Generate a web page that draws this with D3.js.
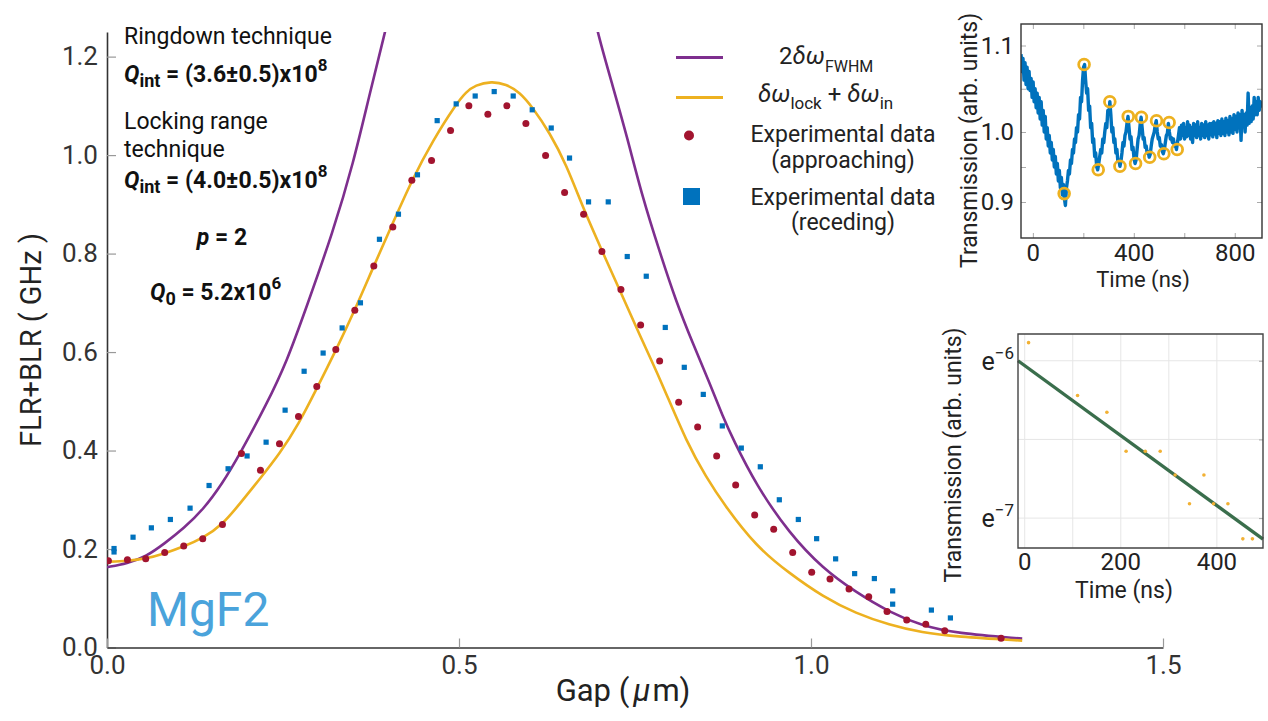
<!DOCTYPE html>
<html>
<head>
<meta charset="utf-8">
<script src="https://cdn.jsdelivr.net/npm/d3@7"></script>
<style>
  body { margin: 0; background: #fff; }
  svg { font-family: Roboto, "Noto Sans", sans-serif; }
</style>
</head>
<body>
<svg id="chart" width="1268" height="721"></svg>
<script>
// ---- main panel data (gap in um, FLR+BLR in GHz) ----
var gapApproach = [0.002, 0.029, 0.055, 0.082, 0.109, 0.136, 0.164, 0.191, 0.218, 0.245, 0.272, 0.298, 0.325, 0.352, 0.379, 0.406, 0.433, 0.461, 0.488, 0.514, 0.541, 0.568, 0.595, 0.623, 0.650, 0.677, 0.703, 0.730, 0.758, 0.785, 0.812, 0.839, 0.866, 0.893, 0.920, 0.947, 0.974, 1.001, 1.027, 1.054, 1.082, 1.108, 1.136, 1.163, 1.190, 1.270];
var flrApproach = [0.176, 0.178, 0.180, 0.193, 0.206, 0.221, 0.250, 0.394, 0.360, 0.414, 0.469, 0.530, 0.605, 0.685, 0.775, 0.854, 0.949, 0.989, 1.050, 1.100, 1.083, 1.100, 1.064, 0.999, 0.924, 0.880, 0.804, 0.727, 0.655, 0.582, 0.498, 0.448, 0.389, 0.330, 0.269, 0.240, 0.193, 0.153, 0.139, 0.119, 0.103, 0.073, 0.056, 0.047, 0.034, 0.019];

var gapRecede = [0.010, 0.010, 0.037, 0.063, 0.090, 0.118, 0.145, 0.172, 0.199, 0.226, 0.253, 0.280, 0.307, 0.334, 0.360, 0.387, 0.414, 0.441, 0.469, 0.496, 0.523, 0.550, 0.577, 0.604, 0.631, 0.657, 0.684, 0.712, 0.739, 0.766, 0.793, 0.820, 0.847, 0.874, 0.901, 0.928, 0.955, 0.982, 1.008, 1.035, 1.062, 1.090, 1.116, 1.116, 1.171, 1.198];
var flrRecede = [0.201, 0.194, 0.224, 0.243, 0.260, 0.283, 0.329, 0.363, 0.389, 0.417, 0.482, 0.561, 0.598, 0.649, 0.700, 0.829, 0.880, 0.960, 1.070, 1.104, 1.120, 1.129, 1.120, 1.092, 1.055, 0.994, 0.905, 0.905, 0.794, 0.754, 0.650, 0.569, 0.514, 0.450, 0.405, 0.367, 0.300, 0.260, 0.221, 0.180, 0.150, 0.140, 0.115, 0.088, 0.076, 0.060];

// 2 dw_FWHM curve, null marks where it leaves the top of the frame
var fwhmGap = [0.000, 0.029, 0.055, 0.082, 0.109, 0.136, 0.164, 0.189, 0.227, 0.255, 0.283, 0.321, 0.350, 0.373, 0.395, 0.405, 0.55, 0.688, 0.697, 0.718, 0.738, 0.761, 0.785, 0.808, 0.832, 0.856, 0.875, 0.889, 0.922, 0.969, 1.017, 1.064, 1.111, 1.158, 1.206, 1.300];
var fwhmVal = [0.163, 0.171, 0.184, 0.2115, 0.242, 0.279, 0.333, 0.3935, 0.495, 0.579, 0.690, 0.844, 0.984, 1.124, 1.250, 1.310, null, 1.310, 1.247, 1.142, 1.041, 0.912, 0.804, 0.704, 0.618, 0.537, 0.468, 0.424, 0.330, 0.232, 0.160, 0.112, 0.072, 0.044, 0.029, 0.018];

// dw_lock + dw_in curve
var lockGap = [0.000, 0.029, 0.055, 0.082, 0.109, 0.136, 0.164, 0.191, 0.218, 0.245, 0.272, 0.298, 0.325, 0.352, 0.379, 0.406, 0.433, 0.463, 0.496, 0.510, 0.523, 0.546, 0.567, 0.586, 0.604, 0.629, 0.652, 0.677, 0.703, 0.729, 0.756, 0.785, 0.825, 0.851, 0.875, 0.922, 0.969, 1.017, 1.064, 1.111, 1.158, 1.206, 1.300];
var lockVal = [0.174, 0.176, 0.180, 0.191, 0.205, 0.222, 0.249, 0.296, 0.344, 0.393, 0.453, 0.526, 0.603, 0.685, 0.775, 0.862, 0.949, 1.030, 1.104, 1.128, 1.142, 1.150, 1.144, 1.128, 1.098, 1.045, 0.982, 0.890, 0.806, 0.724, 0.636, 0.548, 0.411, 0.347, 0.293, 0.205, 0.151, 0.103, 0.069, 0.046, 0.030, 0.022, 0.014];

var gapTicks = [0, 0.5, 1.0, 1.5];
var flrTicks = [0, 0.2, 0.4, 0.6, 0.8, 1.0, 1.2];

// ---- top inset: ringdown trace (time ns, transmission) ----
var ringTrace = [[-47,1.090],[-43,1.070],[-39,1.085],[-35,1.060],[-31,1.080],[-27,1.055],[-23,1.075],[-19,1.050],[-15,1.070],[-11,1.048],[-7,1.062],[-3,1.040],[1,1.058],[5,1.035],[9,1.050],[13,1.028],[17,1.045],[21,1.022],[25,1.040],[29,1.015],[33,1.035],[37,1.008],[41,1.025],[45,1.000],[49,1.018],[53,0.990],[57,1.005],[61,0.980],[65,0.995],[69,0.970],[73,0.985],[77,0.960],[81,0.975],[85,0.950],[89,0.965],[93,0.940],[97,0.955],[101,0.930],[105,0.945],[109,0.920],[113,0.935],[117,0.910],[121,0.925],[125,0.905],[129,0.895],[133,0.920],[137,0.930],[141,0.945],[145,0.940],[149,0.960],[153,0.955],[157,0.975],[161,0.970],[165,0.990],[169,0.985],[173,1.005],[177,1.000],[181,1.020],[185,1.015],[189,1.040],[193,1.035],[197,1.060],[201,1.075],[205,1.078],[209,1.060],[213,1.045],[217,1.050],[221,1.025],[225,1.030],[229,1.005],[233,1.010],[237,0.985],[241,0.990],[245,0.965],[249,0.970],[253,0.950],[257,0.946],[261,0.955],[265,0.965],[269,0.975],[273,0.970],[277,0.990],[281,0.985],[285,1.000],[289,1.010],[293,1.005],[297,1.025],[301,1.020],[305,1.035],[309,1.020],[313,1.000],[317,1.005],[321,0.985],[325,0.990],[329,0.970],[333,0.975],[337,0.958],[341,0.960],[345,0.951],[349,0.958],[353,0.970],[357,0.985],[361,0.980],[365,0.995],[369,1.000],[373,1.010],[377,1.018],[381,1.005],[385,0.990],[389,0.993],[393,0.975],[397,0.978],[401,0.962],[405,0.955],[409,0.960],[413,0.975],[417,0.990],[421,0.995],[425,1.008],[429,1.017],[433,1.005],[437,0.990],[441,0.992],[445,0.978],[449,0.980],[453,0.970],[457,0.972],[461,0.964],[465,0.968],[469,0.980],[473,0.990],[477,0.995],[481,1.000],[485,1.008],[489,1.013],[493,1.000],[497,0.990],[501,0.992],[505,0.980],[509,0.982],[513,0.972],[517,0.969],[521,0.975],[525,0.985],[529,0.995],[533,0.998],[537,1.010],[541,1.000],[545,0.990],[549,0.992],[553,0.985],[557,0.990],[561,0.980],[565,0.982],[569,0.975],[573,0.985],[577,0.995],[581,1.005],[585,0.990],[589,1.008],[593,0.995],[597,1.010],[601,0.990],[605,1.005],[609,0.993],[613,1.012],[617,0.995],[621,1.008],[625,0.990],[629,1.005],[633,0.985],[637,1.010],[641,0.995],[645,1.008],[649,0.992],[653,1.012],[657,0.995],[661,1.005],[665,0.990],[669,1.010],[673,0.995],[677,1.008],[681,0.992],[685,1.012],[689,0.995],[693,1.008],[697,0.990],[701,1.010],[705,0.996],[709,1.010],[713,0.993],[717,1.012],[721,0.997],[725,1.010],[729,0.992],[733,1.013],[737,0.998],[741,1.012],[745,0.995],[749,1.015],[753,0.998],[757,1.012],[761,0.995],[765,1.016],[769,1.000],[773,1.013],[777,0.996],[781,1.018],[785,1.000],[789,1.015],[793,0.998],[797,1.020],[801,1.003],[805,1.018],[809,1.000],[813,1.022],[817,1.005],[821,1.020],[825,0.988],[829,1.025],[833,1.008],[837,1.020],[841,1.000],[845,1.022],[849,1.008],[853,1.045],[857,1.010],[861,1.028],[865,1.012],[869,1.030],[873,1.015],[877,1.040],[881,1.020],[885,1.035],[889,1.020],[893,1.040],[897,1.025],[901,1.035],[905,1.030],[908,1.032]];
var peakTime = [124, 203, 259, 305, 345, 378, 407, 430, 463, 490, 519, 540, 572];
var peakTrans = [0.912, 1.078, 0.946, 1.035, 0.951, 1.018, 0.955, 1.017, 0.964, 1.013, 0.969, 1.011, 0.975];
var ringTimeTicks = [0, 200, 400, 600, 800];
var ringTimeLabels = [0, 400, 800];
var ringTransTicks = [0.9, 0.95, 1.0, 1.05, 1.1];
var ringTransLabels = [0.9, 1.0, 1.1];

// ---- bottom inset: peak amplitudes on a log scale (ln of transmission) ----
var decayTime = [8, 110, 171, 211, 251, 282, 313, 343, 373, 393, 423, 454, 474];
var decayLn = [-5.885, -6.221, -6.327, -6.575, -6.575, -6.575, -6.726, -6.909, -6.726, -6.909, -6.909, -7.132, -7.132];
var fitTime = [-14, 496];
var fitLn = [-6.0, -7.134];
var decayTimeGrid = [0, 100, 200, 300, 400];
var decayTimeLabels = [0, 200, 400];
var decayLnGrid = [-7, -6.5, -6];
var decayLnLabels = [-7, -6];

var colors = {
  fwhm: "#7e2f8e",
  lock: "#edb120",
  approach: "#a2142f",
  recede: "#0072bd",
  fit: "#3a6e4c",
  text: "#222"
};

var svg = d3.select("#chart");

// ================= main panel =================
var x = d3.scaleLinear().domain([0, 1.5]).range([107, 1163]);
var y = d3.scaleLinear().domain([0, 1.25]).range([647.5, 32]);

svg.append("defs").append("clipPath").attr("id", "mainClip")
  .append("rect").attr("x", 107).attr("y", 32).attr("width", 1056).attr("height", 616);

var styleAxis = function (g) {
  g.select(".domain").attr("stroke", "#333").attr("stroke-width", 1.6);
  g.selectAll(".tick line").attr("stroke", "#999").attr("stroke-width", 1.2);
  g.selectAll(".tick text").attr("fill", "#333").attr("font-size", 26).attr("font-family", "Roboto, sans-serif");
};

svg.append("g").attr("transform", "translate(107,0)")
  .call(d3.axisLeft(y).tickValues(flrTicks).tickFormat(d3.format(".1f")).tickSize(-9).tickSizeOuter(0).tickPadding(9))
  .call(styleAxis);

svg.append("g").attr("transform", "translate(0,647.5)")
  .call(d3.axisBottom(x).tickValues(gapTicks).tickFormat(d3.format(".1f")).tickSize(-9).tickSizeOuter(0).tickPadding(8))
  .call(styleAxis);

svg.append("text").attr("transform", "translate(41,340) rotate(-90)")
  .attr("text-anchor", "middle").attr("font-size", 29).attr("fill", colors.text)
  .text("FLR+BLR ( GHz )");

var xt = svg.append("text").attr("x", 623).attr("y", 701).attr("text-anchor", "middle")
  .attr("font-size", 31).attr("fill", colors.text);
xt.append("tspan").text("Gap (");
xt.append("tspan").attr("dx", 4).attr("font-style", "italic").text("\u03bc");
xt.append("tspan").attr("dx", 2).text("m)");

var plot = svg.append("g").attr("clip-path", "url(#mainClip)");

// smooth the read-off points a little
var curveLine = d3.line()
  .defined(function (d) { return d[1] !== null; })
  .x(function (d) { return x(d[0]); })
  .y(function (d) { return y(d[1]); })
  .curve(d3.curveBasis);

var fwhmData = fwhmGap.map(function (g, i) { return [g, fwhmVal[i]]; });
var lockData = lockGap.map(function (g, i) { return [g, lockVal[i]]; });

plot.append("path").attr("d", curveLine(fwhmData))
  .attr("fill", "none").attr("stroke", colors.fwhm).attr("stroke-width", 2.6);
plot.append("path").attr("d", curveLine(lockData))
  .attr("fill", "none").attr("stroke", colors.lock).attr("stroke-width", 2.6);

plot.selectAll("rect.recede").data(gapRecede).enter().append("rect")
  .attr("class", "recede")
  .attr("x", function (d) { return x(d) - 2.6; })
  .attr("y", function (d, i) { return y(flrRecede[i]) - 2.6; })
  .attr("width", 5.2).attr("height", 5.2)
  .attr("fill", colors.recede);

plot.selectAll("circle.approach").data(gapApproach).enter().append("circle")
  .attr("class", "approach")
  .attr("cx", function (d) { return x(d); })
  .attr("cy", function (d, i) { return y(flrApproach[i]); })
  .attr("r", 3.5)
  .attr("fill", colors.approach);

// annotations on the left
var note = svg.append("g").attr("fill", "#111");
note.append("text").attr("x", 124).attr("y", 44).attr("font-size", 23).text("Ringdown technique");
var q1 = note.append("text").attr("x", 124).attr("y", 82).attr("font-size", 23).attr("font-weight", "bold");
q1.append("tspan").attr("font-style", "italic").text("Q");
q1.append("tspan").attr("font-size", 18).attr("dy", 5).text("int");
q1.append("tspan").attr("dy", -5).text(" = (3.6\u00b10.5)x10");
q1.append("tspan").attr("font-size", 17).attr("dy", -11).text("8");
note.append("text").attr("x", 124).attr("y", 129).attr("font-size", 23).text("Locking range");
note.append("text").attr("x", 124).attr("y", 157).attr("font-size", 23).text("technique");
var q2 = note.append("text").attr("x", 124).attr("y", 188).attr("font-size", 23).attr("font-weight", "bold");
q2.append("tspan").attr("font-style", "italic").text("Q");
q2.append("tspan").attr("font-size", 18).attr("dy", 5).text("int");
q2.append("tspan").attr("dy", -5).text(" = (4.0\u00b10.5)x10");
q2.append("tspan").attr("font-size", 17).attr("dy", -11).text("8");
var pp = note.append("text").attr("x", 222).attr("y", 245).attr("font-size", 23).attr("font-weight", "bold").attr("text-anchor", "middle");
pp.append("tspan").attr("font-style", "italic").text("p");
pp.append("tspan").text(" = 2");
var q0 = note.append("text").attr("x", 150).attr("y", 300).attr("font-size", 23).attr("font-weight", "bold");
q0.append("tspan").attr("font-style", "italic").text("Q");
q0.append("tspan").attr("font-size", 18).attr("dy", 5).text("0");
q0.append("tspan").attr("dy", -5).text(" = 5.2x10");
q0.append("tspan").attr("font-size", 17).attr("dy", -11).text("6");

svg.append("text").attr("x", 147).attr("y", 626).attr("font-size", 48)
  .attr("fill", "#4aa3db").text("MgF2");

// legend
var leg = svg.append("g").attr("fill", colors.text);
leg.append("line").attr("x1", 676).attr("x2", 723).attr("y1", 57.5).attr("y2", 57.5)
  .attr("stroke", colors.fwhm).attr("stroke-width", 3);
leg.append("line").attr("x1", 676).attr("x2", 723).attr("y1", 97.5).attr("y2", 97.5)
  .attr("stroke", colors.lock).attr("stroke-width", 3);
var l1 = leg.append("text").attr("x", 779).attr("y", 64).attr("font-size", 24);
l1.append("tspan").text("2");
l1.append("tspan").attr("font-style", "italic").text("\u03b4\u03c9");
l1.append("tspan").attr("font-size", 16).attr("dy", 8).text("FWHM");
var l2 = leg.append("text").attr("x", 758).attr("y", 102).attr("font-size", 24);
l2.append("tspan").attr("font-style", "italic").text("\u03b4\u03c9");
l2.append("tspan").attr("font-size", 17).attr("dy", 7).text("lock");
l2.append("tspan").attr("dy", -7).text(" + ");
l2.append("tspan").attr("font-style", "italic").text("\u03b4\u03c9");
l2.append("tspan").attr("font-size", 17).attr("dy", 7).text("in");
leg.append("circle").attr("cx", 689).attr("cy", 135.5).attr("r", 5).attr("fill", colors.approach);
leg.append("text").attr("x", 843).attr("y", 142).attr("font-size", 23).attr("text-anchor", "middle").text("Experimental data");
leg.append("text").attr("x", 843).attr("y", 168).attr("font-size", 23).attr("text-anchor", "middle").text("(approaching)");
leg.append("rect").attr("x", 683).attr("y", 188).attr("width", 17).attr("height", 17).attr("fill", colors.recede);
leg.append("text").attr("x", 843).attr("y", 205).attr("font-size", 23).attr("text-anchor", "middle").text("Experimental data");
leg.append("text").attr("x", 843).attr("y", 230).attr("font-size", 23).attr("text-anchor", "middle").text("(receding)");

// ================= top inset =================
var rx = d3.scaleLinear().domain([-47, 908]).range([1021, 1262]);
var ry = d3.scaleLinear().domain([0.9, 1.0, 1.1]).range([202, 132, 45.5]);

var styleInset = function (g) {
  g.select(".domain").remove();
  g.selectAll(".tick line").attr("stroke", "#aaa");
  g.selectAll(".tick text").attr("fill", "#222").attr("font-size", 24).attr("font-family", "Roboto, sans-serif");
};
var labelOnly = function (list, fmt) {
  return function (d) { return list.indexOf(d) >= 0 ? fmt(d) : ""; };
};

svg.append("g").attr("transform", "translate(1021,0)")
  .call(d3.axisLeft(ry).tickValues(ringTransTicks).tickFormat(labelOnly(ringTransLabels, d3.format(".1f"))).tickSize(-5).tickPadding(7))
  .call(styleInset);
svg.append("g").attr("transform", "translate(1262,0)")
  .call(d3.axisRight(ry).tickValues(ringTransTicks).tickFormat("").tickSize(-5))
  .call(styleInset);
svg.append("g").attr("transform", "translate(0,238)")
  .call(d3.axisBottom(rx).tickValues(ringTimeTicks).tickFormat(labelOnly(ringTimeLabels, d3.format("d"))).tickSize(-5).tickPadding(6))
  .call(styleInset);
svg.append("g").attr("transform", "translate(0,24)")
  .call(d3.axisTop(rx).tickValues(ringTimeTicks).tickFormat("").tickSize(-5))
  .call(styleInset);

svg.append("defs").append("clipPath").attr("id", "ringClip")
  .append("rect").attr("x", 1021).attr("y", 24).attr("width", 241).attr("height", 214);

svg.append("path").attr("clip-path", "url(#ringClip)")
  .attr("d", d3.line().x(function (d) { return rx(d[0]); }).y(function (d) { return ry(d[1]); })(ringTrace))
  .attr("fill", "none").attr("stroke", colors.recede).attr("stroke-width", 3.4).attr("stroke-linejoin", "round");

svg.selectAll("circle.peak").data(peakTime).enter().append("circle")
  .attr("class", "peak")
  .attr("cx", function (d) { return rx(d); })
  .attr("cy", function (d, i) { return ry(peakTrans[i]); })
  .attr("r", 5.4)
  .attr("fill", "none").attr("stroke", colors.lock).attr("stroke-width", 2.8);

svg.append("rect").attr("x", 1021).attr("y", 24).attr("width", 241).attr("height", 214)
  .attr("fill", "none").attr("stroke", "#333").attr("stroke-width", 1.4);

svg.append("text").attr("x", 1143).attr("y", 287).attr("text-anchor", "middle")
  .attr("font-size", 22).attr("fill", colors.text).text("Time (ns)");
svg.append("text").attr("transform", "translate(977,268) rotate(-90)")
  .attr("font-size", 23).attr("fill", colors.text).text("Transmission (arb. units)");

// ================= bottom inset =================
var dx = d3.scaleLinear().domain([-14, 496]).range([1018, 1263]);
var dy = d3.scaleLinear().domain([-7.19, -5.83]).range([548, 334]);

var grid = svg.append("g").attr("stroke", "#e6e6e6").attr("stroke-width", 1);
grid.selectAll("line.gx").data(decayTimeGrid).enter().append("line")
  .attr("x1", function (d) { return dx(d); }).attr("x2", function (d) { return dx(d); })
  .attr("y1", 334).attr("y2", 548);
grid.selectAll("line.gy").data(decayLnGrid).enter().append("line")
  .attr("y1", function (d) { return dy(d); }).attr("y2", function (d) { return dy(d); })
  .attr("x1", 1018).attr("x2", 1263);

svg.append("g").attr("transform", "translate(1263,0)")
  .call(d3.axisRight(dy).tickValues(decayLnGrid).tickFormat("").tickSize(-4))
  .call(styleInset);

var fitData = fitTime.map(function (t, i) { return [t, fitLn[i]]; });
svg.append("path")
  .attr("d", d3.line().x(function (d) { return dx(d[0]); }).y(function (d) { return dy(d[1]); })(fitData))
  .attr("stroke", colors.fit).attr("stroke-width", 3.4).attr("fill", "none");

svg.selectAll("circle.decay").data(decayTime).enter().append("circle")
  .attr("class", "decay")
  .attr("cx", function (d) { return dx(d); })
  .attr("cy", function (d, i) { return dy(decayLn[i]); })
  .attr("r", 1.8).attr("fill", "#f2b134");

svg.append("path").attr("d", "M1263,334H1018V548H1263Z")
  .attr("fill", "none").attr("stroke", "#444").attr("stroke-width", 1.4);

svg.selectAll("text.dxl").data(decayTimeLabels).enter().append("text")
  .attr("class", "dxl")
  .attr("x", function (d) { return dx(d); }).attr("y", 570)
  .attr("text-anchor", "middle").attr("font-size", 24).attr("fill", "#222")
  .text(function (d) { return d; });

decayLnLabels.forEach(function (v) {
  var t = svg.append("text").attr("x", 1014).attr("y", dy(v) + 9)
    .attr("text-anchor", "end").attr("font-size", 25).attr("fill", "#222");
  t.append("tspan").text("e");
  t.append("tspan").attr("font-size", 17).attr("dy", -11).text("\u2212" + Math.abs(v));
});

svg.append("text").attr("x", 1124).attr("y", 598).attr("text-anchor", "middle")
  .attr("font-size", 23).attr("fill", colors.text).text("Time (ns)");
svg.append("text").attr("transform", "translate(961,455) rotate(-90)")
  .attr("text-anchor", "middle").attr("font-size", 23).attr("fill", colors.text)
  .text("Transmission (arb. units)");
</script>
</body>
</html>
